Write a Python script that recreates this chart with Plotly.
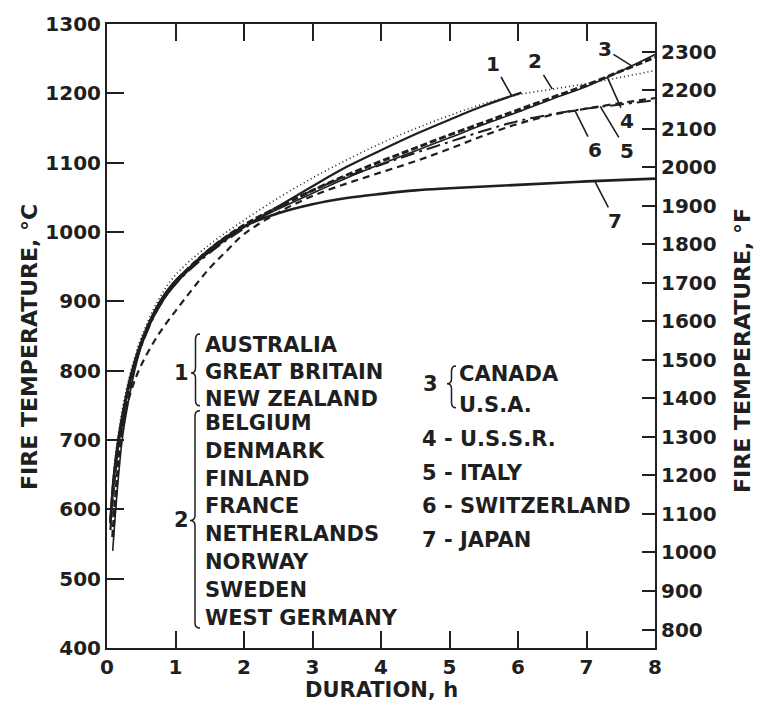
import numpy as np
import plotly.graph_objects as go

# Standard fire-resistance test curves, duration in hours vs furnace temperature in deg C
t1 = [0.05, 0.1, 0.17, 0.25, 0.35, 0.5, 0.75, 1, 1.5, 2, 2.5, 3, 3.5, 4, 4.5, 5, 5.5, 6.05]
c1 = [585, 650, 705, 750, 795, 842, 896, 930, 972, 1007, 1037, 1066, 1094, 1118, 1141, 1162, 1182, 1201]

t2 = [0.05, 0.1, 0.17, 0.25, 0.35, 0.5, 0.75, 1, 1.5, 2, 2.5, 3, 3.5, 4, 4.5, 5, 5.5, 6, 6.5, 7, 7.5, 8]
c2 = [590, 655, 712, 758, 800, 848, 902, 938, 982, 1017, 1049, 1078, 1104, 1128, 1149, 1168, 1185, 1198, 1206, 1214, 1223, 1233]

t3 = [0.083, 0.17, 0.25, 0.5, 0.75, 1, 1.5, 2, 2.5, 3, 3.5, 4, 4.5, 5, 5.5, 6, 6.5, 7, 7.5, 8]
c3 = [540, 650, 720, 835, 890, 925, 972, 1008, 1033, 1056, 1078, 1098, 1117, 1136, 1155, 1173, 1192, 1210, 1232, 1256]

t4 = [0.083, 0.17, 0.25, 0.5, 0.75, 1, 1.5, 2, 2.5, 3, 3.5, 4, 4.5, 5, 5.5, 6, 6.5, 7, 7.5, 8]
c4 = [560, 670, 735, 840, 893, 928, 975, 1010, 1036, 1060, 1082, 1102, 1121, 1140, 1158, 1176, 1194, 1212, 1232, 1252]

t5 = [0.05, 0.12, 0.21, 0.35, 0.5, 0.75, 1, 1.25, 1.5, 1.75, 2, 2.5, 3, 3.5, 4, 4.5, 5, 5.5, 6, 6.5, 7, 7.5, 8]
c5 = [570, 650, 712, 770, 808, 852, 886, 918, 948, 973, 997, 1028, 1052, 1070, 1086, 1102, 1120, 1139, 1156, 1169, 1178, 1186, 1193]

t6 = [0.05, 0.1, 0.2, 0.35, 0.5, 0.75, 1, 1.5, 2, 2.5, 3, 3.5, 4, 4.5, 5, 5.5, 6, 6.5, 7, 7.5, 8]
c6 = [580, 640, 715, 790, 835, 890, 925, 970, 1005, 1035, 1060, 1080, 1097, 1114, 1130, 1146, 1160, 1170, 1178, 1184, 1190]

t7 = [0.05, 0.1, 0.17, 0.25, 0.35, 0.5, 0.75, 1, 1.5, 2, 2.5, 3, 3.5, 4, 4.5, 5, 6, 7, 8]
c7 = [580, 645, 700, 745, 790, 838, 893, 926, 975, 1008, 1027, 1040, 1049, 1055, 1060, 1063, 1068, 1073, 1077]

x_ticks = [0, 1, 2, 3, 4, 5, 6, 7, 8]
c_ticks = [400, 500, 600, 700, 800, 900, 1000, 1100, 1200, 1300]
f_ticks = [800, 900, 1000, 1100, 1200, 1300, 1400, 1500, 1600, 1700, 1800, 1900, 2000, 2100, 2200, 2300]

group1 = ["AUSTRALIA", "GREAT BRITAIN", "NEW ZEALAND"]
group2 = ["BELGIUM", "DENMARK", "FINLAND", "FRANCE", "NETHERLANDS", "NORWAY", "SWEDEN", "WEST GERMANY"]
group3 = ["CANADA", "U.S.A."]
singles = ["4 - U.S.S.R.", "5 - ITALY", "6 - SWITZERLAND", "7 - JAPAN"]

INK = "#1f1f1f"
FONT = "DejaVu Sans"

# plot-area geometry (pixels) used for placing the hand-lettered key
W, H = 757, 704
L, R, T, B = 107, 655, 22, 648


def px(x):
    return (x - L) / (R - L)


def py(y):
    return (B - y) / (B - T)


fig = go.Figure()

curves = [
    (t1, c1, dict(width=2.2, dash="solid")),
    (t2, c2, dict(width=1.6, dash="1px,3px")),
    (t3, c3, dict(width=1.6, dash="solid")),
    (t4, c4, dict(width=3, dash="7px,3px")),
    (t5, c5, dict(width=2.2, dash="7px,5px")),
    (t6, c6, dict(width=2, dash="14px,5px,3px,5px")),
    (t7, c7, dict(width=2.6, dash="solid")),
]
for t, c, ln in curves:
    fig.add_trace(go.Scatter(x=t, y=c, mode="lines", line=dict(color=INK, shape="spline", **ln),
                             showlegend=False, hoverinfo="skip"))

# empty trace so the Fahrenheit axis is drawn
fig.add_trace(go.Scatter(x=[None], y=[None], yaxis="y2", showlegend=False, hoverinfo="skip"))

tickfont = dict(family=FONT, size=20, color=INK, weight="bold")

fig.update_layout(
    width=W, height=H,
    margin=dict(l=L, r=W - R, t=T, b=H - B),
    paper_bgcolor="white", plot_bgcolor="white",
    font=dict(family=FONT, color=INK),
    xaxis=dict(range=[0, 8], tickvals=x_ticks, ticks="inside", ticklen=17, tickwidth=2,
               tickcolor=INK, showline=True, linewidth=2, linecolor=INK, mirror="ticks",
               showgrid=False, zeroline=False, tickfont=tickfont),
    yaxis=dict(range=[400, 1300], tickvals=c_ticks, ticks="inside", ticklen=17, tickwidth=2,
               tickcolor=INK, showline=True, linewidth=2, linecolor=INK,
               showgrid=False, zeroline=False, tickfont=tickfont),
    yaxis2=dict(range=[400 * 1.8 + 32, 1300 * 1.8 + 32], tickvals=f_ticks, overlaying="y",
                side="right", ticks="inside", ticklen=13, tickwidth=2, tickcolor=INK,
                showline=True, linewidth=2, linecolor=INK, showgrid=False, zeroline=False,
                tickfont=tickfont),
)

ann = []


def label(s, x, y, font, xanchor="center", angle=0):
    ann.append(dict(text=s, x=px(x), y=py(y), xref="paper", yref="paper", xanchor=xanchor,
                    yanchor="middle", textangle=angle, showarrow=False, font=font))


title_font = dict(family=FONT, size=22, color=INK, weight="bold")
label("FIRE TEMPERATURE, °C", 30, 346, title_font, angle=-90)
label("FIRE TEMPERATURE, °F", 743, 350, title_font, angle=-90)
label("DURATION, h", 381, 690, dict(family=FONT, size=21, color=INK, weight="bold"))

# curve number labels with leader lines to the curves
num_font = dict(family=FONT, size=20, color=INK, weight="bold")
leaders = [
    ("1", t1, c1, 5.91, 5.64, 1243),
    ("2", t2, c2, 6.50, 6.25, 1246),
    ("3", t3, c3, 7.66, 7.27, 1264),
    ("4", t4, c4, 7.30, 7.59, 1160),
    ("5", t5, c5, 7.20, 7.59, 1117),
    ("6", t6, c6, 6.83, 7.12, 1118),
    ("7", t7, c7, 7.12, 7.42, 1016),
]
for lab, t, c, xt, xl, yl in leaders:
    ann.append(dict(text=lab, x=xt, y=float(np.interp(xt, t, c)), xref="x", yref="y",
                    ax=xl, ay=yl, axref="x", ayref="y", showarrow=True, arrowhead=0,
                    arrowwidth=1.6, arrowcolor=INK, standoff=0, font=num_font))

key_font = dict(family=FONT, size=21, color=INK, weight="bold")

for i, s in enumerate(group1):
    label(s, 203, 344 + 27 * i, key_font, xanchor="left")
for i, s in enumerate(group2):
    label(s, 203, 422 + 28 * i, key_font, xanchor="left")
for i, s in enumerate(group3):
    label(s, 457, 373 + 31 * i, key_font, xanchor="left")
for i, s in enumerate(singles):
    label(s, 420, 438 + 34 * i, key_font, xanchor="left")
label("1", 181, 372, key_font)
label("2", 181, 520, key_font)
label("3", 430, 383, key_font)


def brace(x0, ytop, ybot, ymid, w):
    x1 = x0 - w * 0.5
    x2 = x0 - w
    r = 5
    pts = [
        ("M", [(x0, ytop)]),
        ("Q", [(x1, ytop), (x1, ytop + r)]),
        ("L", [(x1, ymid - r)]),
        ("Q", [(x1, ymid), (x2, ymid)]),
        ("Q", [(x1, ymid), (x1, ymid + r)]),
        ("L", [(x1, ybot - r)]),
        ("Q", [(x1, ybot), (x0, ybot)]),
    ]
    d = ""
    for cmd, ps in pts:
        d += cmd + " " + " ".join(f"{px(a):.5f},{py(b):.5f}" for a, b in ps) + " "
    return dict(type="path", path=d.strip(), xref="paper", yref="paper",
                line=dict(color=INK, width=1.5))


shapes = [
    brace(200, 333, 405, 372, 9),
    brace(200, 410, 628, 520, 10),
    brace(456, 365, 407, 383, 9),
]

fig.update_layout(annotations=ann, shapes=shapes)
fig.write_html("out.html")
